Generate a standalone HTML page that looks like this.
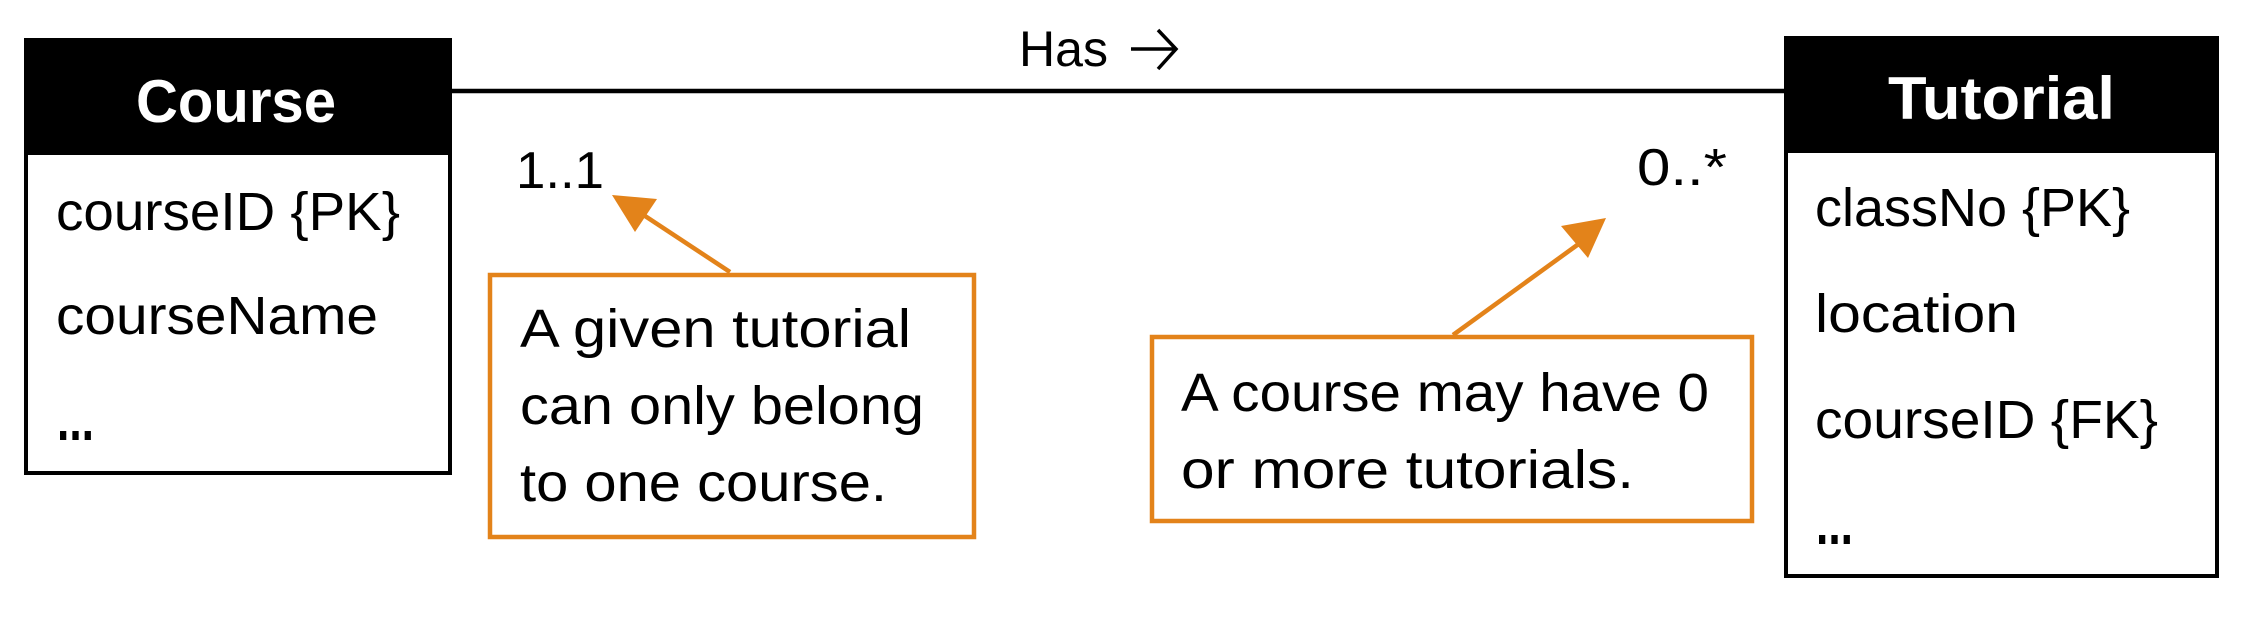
<!DOCTYPE html>
<html><head><meta charset="utf-8"><style>
html,body{margin:0;padding:0;background:#fff;}
svg{display:block;}
text{font-family:"Liberation Sans",sans-serif;}
</style></head><body>
<svg width="2254" height="626" viewBox="0 0 2254 626" xmlns="http://www.w3.org/2000/svg">
<rect x="0" y="0" width="2254" height="626" fill="#fff"/>
<line x1="450" y1="91" x2="1786" y2="91" stroke="#000" stroke-width="4.5"/>
<text x="1019" y="66" font-size="50" textLength="89" lengthAdjust="spacingAndGlyphs">Has</text>
<path d="M1131 49 L1175 49 M1158 30 L1176 49 L1158 69" fill="none" stroke="#000" stroke-width="3.5"/>
<rect x="26" y="40" width="424" height="433" fill="#fff" stroke="#000" stroke-width="4"/>
<rect x="24" y="38" width="428" height="117" fill="#000"/>
<text x="136" y="122" font-size="60" font-weight="bold" fill="#fff" textLength="200" lengthAdjust="spacingAndGlyphs">Course</text>
<text x="56" y="230" font-size="54" textLength="344" lengthAdjust="spacingAndGlyphs">courseID {PK}</text>
<text x="56" y="334" font-size="54" textLength="322" lengthAdjust="spacingAndGlyphs">courseName</text>
<text x="57" y="440" font-size="60" font-weight="bold" textLength="37" lengthAdjust="spacingAndGlyphs">...</text>
<rect x="1786" y="38" width="431" height="538" fill="#fff" stroke="#000" stroke-width="4"/>
<rect x="1784" y="36" width="435" height="117" fill="#000"/>
<text x="1888" y="119" font-size="60" font-weight="bold" fill="#fff" textLength="227" lengthAdjust="spacingAndGlyphs">Tutorial</text>
<text x="1815" y="226" font-size="54" textLength="315" lengthAdjust="spacingAndGlyphs">classNo {PK}</text>
<text x="1815" y="332" font-size="54" textLength="203" lengthAdjust="spacingAndGlyphs">location</text>
<text x="1815" y="438" font-size="54" textLength="343" lengthAdjust="spacingAndGlyphs">courseID {FK}</text>
<text x="1816" y="544" font-size="60" font-weight="bold" textLength="37" lengthAdjust="spacingAndGlyphs">...</text>
<text x="516" y="188" font-size="52" textLength="88" lengthAdjust="spacingAndGlyphs">1..1</text>
<text x="1637" y="185" font-size="52" textLength="90" lengthAdjust="spacingAndGlyphs">0..*</text>
<rect x="490" y="275" width="484" height="262" fill="#fff" stroke="#E3831A" stroke-width="4.5"/>
<text x="520" y="347" font-size="54" textLength="391" lengthAdjust="spacingAndGlyphs">A given tutorial</text>
<text x="520" y="424" font-size="54" textLength="404" lengthAdjust="spacingAndGlyphs">can only belong</text>
<text x="520" y="501" font-size="54" textLength="367" lengthAdjust="spacingAndGlyphs">to one course.</text>
<line x1="730" y1="272" x2="642" y2="214" stroke="#E3831A" stroke-width="4.5"/>
<polygon points="612,195 657,199 635,232" fill="#E3831A"/>
<rect x="1152" y="337" width="600" height="184" fill="#fff" stroke="#E3831A" stroke-width="4.5"/>
<text x="1181" y="411" font-size="54" textLength="528" lengthAdjust="spacingAndGlyphs">A course may have 0</text>
<text x="1181" y="488" font-size="54" textLength="453" lengthAdjust="spacingAndGlyphs">or more tutorials.</text>
<line x1="1453" y1="335" x2="1580" y2="243" stroke="#E3831A" stroke-width="4.5"/>
<polygon points="1606,218 1561,226 1588,258" fill="#E3831A"/>
</svg>
</body></html>
